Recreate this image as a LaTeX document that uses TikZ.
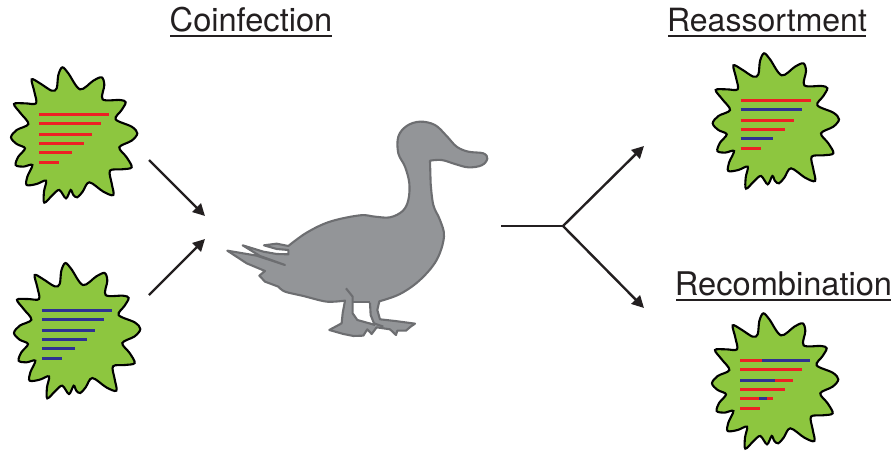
\documentclass[tikz,border=0pt]{standalone}
\usepackage{fontspec}
\setmainfont{TeX Gyre Heros}
\usetikzlibrary{arrows.meta}
\definecolor{virusgreen}{HTML}{8DC63F}
\definecolor{segred}{HTML}{ED2024}
\definecolor{segblue}{HTML}{2E3192}
\definecolor{duckfill}{HTML}{939598}
\definecolor{duckline}{HTML}{6D6E71}
\definecolor{inkdark}{HTML}{231F20}
\tikzset{
  flow/.style={draw=inkdark,line width=2.4pt,-{Triangle[length=12pt,width=12pt]}},
  stem/.style={draw=inkdark,line width=2.4pt},
  heading/.style={font=\fontsize{32.6}{36}\selectfont,text=inkdark,inner sep=0pt,anchor=base},
  rule/.style={draw=inkdark,line width=1.9pt},
  capsid/.style={draw=black,line width=2.1pt,fill=virusgreen},
  seg/.style={line width=3pt},
  redseg/.style={seg,draw=segred},
  blueseg/.style={seg,draw=segblue},
  duckstroke/.style={draw=duckline,line width=2.1pt,line join=round}
}
% Spiky virus particle, outline given in units of a third of a pixel
\newcommand{\capsidshape}{%
  \draw[capsid] plot[smooth cycle,tension=0.55] coordinates {
    (187,52) (205,70) (240,118) (280,92) (305,82) (313,105) (308,148) (360,150) (377,157)
    (365,180) (347,208) (395,230) (412,250) (395,272) (358,292) (380,322) (395,352) (365,358) (330,362)
    (335,400) (340,435) (310,425) (268,397) (248,425) (232,442) (220,435) (212,420)
    (198,445) (178,420) (158,435) (133,458) (132,425) (138,392) (110,402) (80,405) (82,380) (97,345)
    (70,350) (47,345) (55,320) (75,295) (50,282) (33,262) (50,240) (85,222) (62,190) (42,162) (75,160) (108,160)
    (103,125) (95,88) (120,100) (155,122) (170,115) (175,75)
  };}
\begin{document}
\begin{tikzpicture}[x=1pt,y=-1pt]
\useasboundingbox (0,0) rectangle (894,450);

% Headings
\node[heading] (coinf) at (251,31) {Coinfection};
\node[heading,font=\fontsize{32}{36}\selectfont] (reass) at (767,31) {Reassortment};
\node[heading] (recom) at (783.5,295) {Recombination};
\draw[rule] (170,36) -- (332,36);
\draw[rule] (668,36) -- (866,36);
\draw[rule] (676,300) -- (891,300);

% Parental virus, red segments
\begin{scope}[shift={(0,50)},x=0.3333pt,y=-0.3333pt]
  \capsidshape
  \draw[redseg] (117,193) -- (327,193);
  \draw[redseg] (117,222) -- (302,222);
  \draw[redseg] (117,253) -- (277,253);
  \draw[redseg] (117,281) -- (251,281);
  \draw[redseg] (117,309) -- (215,309);
  \draw[redseg] (117,337) -- (177,337);
\end{scope}

% Parental virus, blue segments
\begin{scope}[shift={(3,245.7)},x=0.3333pt,y=-0.3333pt]
  \capsidshape
  \draw[blueseg] (117,193) -- (327,193);
  \draw[blueseg] (117,222) -- (302,222);
  \draw[blueseg] (117,253) -- (277,253);
  \draw[blueseg] (117,281) -- (251,281);
  \draw[blueseg] (117,309) -- (215,309);
  \draw[blueseg] (117,337) -- (177,337);
\end{scope}

% Reassortant progeny: whole segments from either parent
\begin{scope}[shift={(701.7,36)},x=0.3333pt,y=-0.3333pt]
  \capsidshape
  \draw[redseg] (117,193) -- (327,193);
  \draw[blueseg] (117,222) -- (302,222);
  \draw[redseg] (117,253) -- (277,253);
  \draw[redseg] (117,281) -- (251,281);
  \draw[blueseg] (117,309) -- (215,309);
  \draw[redseg] (117,337) -- (177,337);
\end{scope}

% Recombinant progeny: mosaic segments
\begin{scope}[shift={(701,296)},x=0.3333pt,y=-0.3333pt]
  \capsidshape
  \draw[redseg] (117,193) -- (183,193);
  \draw[blueseg] (183,193) -- (327,193);
  \draw[redseg] (117,222) -- (302,222);
  \draw[blueseg] (117,253) -- (223,253);
  \draw[redseg] (223,253) -- (277,253);
  \draw[redseg] (117,281) -- (251,281);
  \draw[redseg] (117,309) -- (215,309);
  \draw[blueseg] (174,309) -- (198,309);
  \draw[redseg] (117,337) -- (177,337);
\end{scope}

% Duck silhouette
\begin{scope}[shift={(220,110)},x=0.3333pt,y=-0.3333pt]
  \draw[duckstroke,fill=duckfill]
    plot[smooth,tension=0.6] coordinates {
      (630,152) (665,150) (705,162) (745,172) (785,166) (802,146) (790,130) (745,125) (710,110)
      (680,78) (645,45) (600,35) (560,48) (535,80) (535,130) (555,170) (568,220) (565,270) (548,303) (510,322)
      (465,320) (420,316) (330,335) (260,368) (205,408)}
    -- (170,401) -- (132,406) -- (170,417) -- (205,420) -- (205,433) -- (170,432) -- (130,425) -- (68,406)
    -- (120,438) -- (195,465) -- (110,437) -- (22,422) -- (80,460) -- (135,483) -- (118,497)
    -- (135,515) -- (175,530)
    -- plot[smooth,tension=0.5] coordinates {(175,530) (195,545) (250,558) (320,575) (375,572)}
    -- (368,610) -- (365,640) -- (328,660) -- (370,672) -- (400,678) -- (430,677) -- (442,658) -- (455,672) -- (470,652)
    -- (510,658) -- (528,675) -- (532,662) -- (558,662) -- (572,650) -- (585,641) -- (525,633) -- (480,628)
    -- (472,600) -- (478,574)
    -- plot[smooth,tension=0.6] coordinates {(478,574) (540,552) (600,510) (650,450) (672,380) (660,330) (640,285) (632,220)}
    -- cycle;
  % Gap between the two legs
  \fill[white] (398,578) -- (450,578) -- (452,615) -- (462,640) -- (412,630) -- (398,610) -- cycle;
  \draw[duckstroke] (378,535) -- (398,560) -- (398,610) -- (412,630) -- (465,645);
  \draw[duckstroke] (450,578) -- (452,615) -- (462,640) -- (490,650);
  \draw[duckstroke] (398,577) -- (450,577);
\end{scope}

% Connectors
\coordinate (inA) at (149,160);
\coordinate (inB) at (149,295);
\coordinate (inAend) at (205,216);
\coordinate (inBend) at (205,239);
\coordinate (outstart) at (501,226);
\coordinate (fork) at (563,226);
\coordinate (outA) at (644,146);
\coordinate (outB) at (644,308);
\draw[flow] (inA) -- (inAend);
\draw[flow] (inB) -- (inBend);
\draw[stem] (outstart) -- (fork);
\draw[flow] (fork) -- (outA);
\draw[flow] (fork) -- (outB);
\end{tikzpicture}
\end{document}
